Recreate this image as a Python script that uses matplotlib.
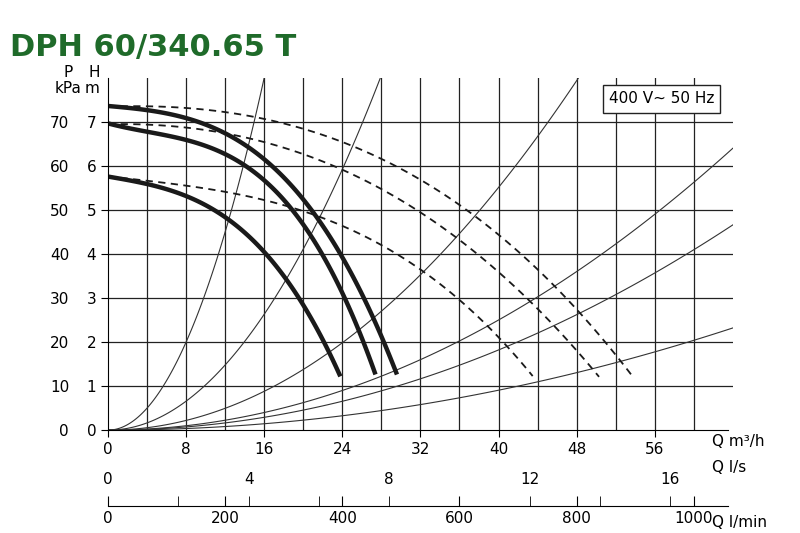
import matplotlib
matplotlib.use("Agg")
import matplotlib.pyplot as plt
import numpy as np

# Pump curves: (Q m3/h, H m)
SOLID_Q = [
    [0, 6, 12, 18, 21, 23.8],
    [0, 7, 14, 21, 24.5, 27.4],
    [0, 7.5, 15, 22.5, 26.5, 29.6],
]
SOLID_H = [
    [5.75, 5.5, 4.8, 3.5, 2.5, 1.2],
    [6.95, 6.7, 5.95, 4.3, 3.0, 1.2],
    [7.35, 7.15, 6.3, 4.4, 3.0, 1.2],
]
DASHED_Q = [
    [0, 11, 22, 33, 38, 43.5],
    [0, 12.5, 25, 37.5, 44, 50.3],
    [0, 13.5, 27, 40, 47, 53.8],
]
DASHED_H = [
    [5.75, 5.5, 4.75, 3.5, 2.6, 1.2],
    [6.95, 6.7, 5.85, 4.0, 2.8, 1.2],
    [7.35, 7.15, 6.3, 4.4, 3.0, 1.2],
]
# System curves: end point (Q, H) of each parabola through the origin
SYSTEM_END_Q = [16, 27.9, 48.2, 64, 64, 64]
SYSTEM_END_H = [8, 8, 8, 6.4, 4.66, 2.32]

Q_TICKS = [0, 8, 16, 24, 32, 40, 48, 56]
LS_TICKS = [0, 4, 8, 12, 16]
LMIN_TICKS = [0, 200, 400, 600, 800, 1000]


def smooth(q, h):
    """Smooth polyline through the read points."""
    coef = np.polyfit(q, h, 3)
    qq = np.linspace(q[0], q[-1], 120)
    return qq, np.polyval(coef, qq)


fig = plt.figure(figsize=(8, 5.33), dpi=100)
ax = fig.add_axes([0.135, 0.193, 0.781, 0.661])
ax.set_xlim(0, 64)
ax.set_ylim(0, 8)

for x in np.arange(4, 64, 4):
    ax.axvline(x, color="#222222", lw=0.9)
for y in range(1, 8):
    ax.axhline(y, color="#222222", lw=0.9)

for qe, he in zip(SYSTEM_END_Q, SYSTEM_END_H):
    q = np.linspace(0, qe, 100)
    ax.plot(q, he * (q / qe) ** 2, color="#333333", lw=0.8)

for q, h in zip(SOLID_Q, SOLID_H):
    ax.plot(*smooth(q, h), color="#1a1a1a", lw=3.2, solid_capstyle="butt")
for q, h in zip(DASHED_Q, DASHED_H):
    ax.plot(*smooth(q, h), color="#1a1a1a", lw=1.3, ls=(0, (4, 3)))

for s in ["top", "right"]:
    ax.spines[s].set_visible(False)
ax.set_xticks(Q_TICKS)
ax.set_yticks(range(0, 8))
ax.tick_params(labelsize=11, length=5)
ax.spines["bottom"].set_bounds(0, 63.5)

sec = ax.secondary_yaxis("left", functions=(lambda h: h * 10, lambda p: p / 10))
sec.set_yticks(range(0, 80, 10))
sec.tick_params(length=0, pad=28, labelsize=11)
sec.spines["left"].set_visible(False)

fig.text(0.125, 0.82, "H\nm", ha="right", va="bottom", fontsize=11, linespacing=1.1)
fig.text(0.085, 0.82, "P\nkPa", ha="center", va="bottom", fontsize=11, linespacing=1.1)
fig.text(0.89, 0.163, "Q m³/h", fontsize=11)

# Q l/s (labels above) and Q l/min (labels below) on one line
ax2 = fig.add_axes([0.135, 0.051, 0.781, 0.08])
ax2.set_xlim(0, 64)
ax2.set_ylim(0, 1)
ax2.set_yticks([])
ax2.patch.set_visible(False)
for s in ["left", "right", "top"]:
    ax2.spines[s].set_visible(False)
ax2.spines["bottom"].set_bounds(0, 63.5)
ax2.set_xticks([v * 0.06 for v in LMIN_TICKS])
ax2.set_xticklabels([str(v) for v in LMIN_TICKS])
ax2.set_xticks([v * 3.6 for v in [2, 4, 6, 8, 10, 12, 14, 16]], minor=True)
ax2.tick_params(axis="x", which="both", direction="in", length=7, labelsize=11)
for v in LS_TICKS:
    ax2.text(v * 3.6, 0.45, str(v), ha="center", va="bottom", fontsize=11)
fig.text(0.89, 0.115, "Q l/s", fontsize=11)
fig.text(0.89, 0.012, "Q l/min", fontsize=11)

fig.text(0.012, 0.895, "DPH 60/340.65 T", fontsize=22, fontweight="bold",
         color="#1f6b2a")
ax.text(0.97, 0.94, "400 V~ 50 Hz", transform=ax.transAxes, ha="right", va="center",
        fontsize=11, bbox=dict(boxstyle="square,pad=0.4", facecolor="white", edgecolor="#222222"))

fig.savefig("out.png", dpi=100, facecolor="white")
